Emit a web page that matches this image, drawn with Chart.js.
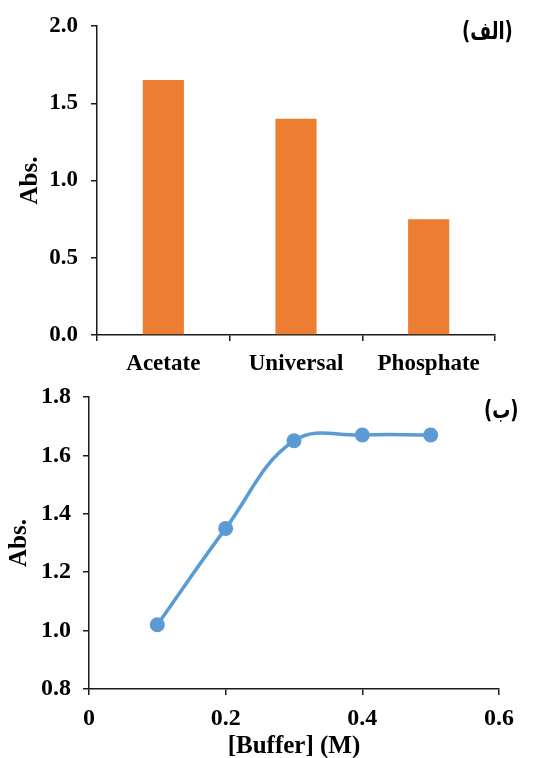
<!DOCTYPE html>
<html>
<head>
<meta charset="utf-8">
<script src="https://cdn.jsdelivr.net/npm/chart.js@4.4.1/dist/chart.umd.min.js"></script>
<style>
  html, body { margin: 0; padding: 0; background: #fff; }
  body { width: 541px; height: 758px; position: relative; overflow: hidden; }
  .box { position: absolute; left: 0; width: 541px; }
  #box-a { top: 0; height: 380px; }
  #box-b { top: 380px; height: 378px; }
  .tag {
    position: absolute; font-family: "DejaVu Sans"; font-weight: bold; font-size: 24px;
    color: #000; line-height: 1; white-space: nowrap;
    transform: scaleX(0.75); transform-origin: left top;
  }
</style>
</head>
<body>
<div class="box" id="box-a"><canvas id="grafico-a"></canvas></div>
<div class="box" id="box-b"><canvas id="grafico-b"></canvas></div>
<div class="tag" id="tag-a" dir="rtl" style="left:462px; top:19px;">(الف)</div>
<div class="tag" id="tag-b" dir="rtl" style="left:484px; top:398px;">(ب)</div>

<script>
// ===== DADOS =====
const tampoes = ["Acetate", "Universal", "Phosphate"];
const absTampao = [1.65, 1.40, 0.75];
const ticksA = [0.0, 0.5, 1.0, 1.5, 2.0];

const concentracao = [0.1, 0.2, 0.3, 0.4, 0.5];
const absConc = [1.02, 1.35, 1.65, 1.67, 1.67];
const ticksBx = [0, 0.2, 0.4, 0.6];
const ticksBxLabels = ["0", "0.2", "0.4", "0.6"];
const ticksBy = [0.8, 1.0, 1.2, 1.4, 1.6, 1.8];

const SERIF = "'Liberation Serif', 'Times New Roman', serif";
const EIXO = "#1a1a1a";

function fixarTicks(valores) {
  return scale => { scale.ticks = valores.map(v => ({ value: v })); };
}

// larguras fixas, sem padding extra das escalas
function larguraY(w) {
  return s => { s.width = w; s.paddingTop = 0; s.paddingBottom = 0; };
}
function alturaX(h) {
  return s => { s.height = h; s.paddingLeft = 0; s.paddingRight = 0; };
}

// ===== GRÁFICO (الف) =====
new Chart(document.getElementById("grafico-a"), {
  type: "bar",
  data: {
    labels: tampoes,
    datasets: [{
      data: absTampao,
      backgroundColor: "#ED7D31",
      borderWidth: 0,
      barPercentage: 0.31,
      categoryPercentage: 1,
    }]
  },
  options: {
    responsive: true,
    maintainAspectRatio: false,
    animation: false,
    layout: { padding: { left: 0, right: 46, top: 26, bottom: 0 } },
    plugins: { legend: { display: false }, tooltip: { enabled: false } },
    scales: {
      x: {
        afterFit: alturaX(45),
        grid: { offset: true, drawOnChartArea: false, drawTicks: true, tickLength: 6, color: EIXO, lineWidth: 1.5 },
        border: { color: EIXO, width: 1.5 },
        ticks: { color: "#000", padding: 9, font: { family: SERIF, size: 23, weight: "bold" } },
      },
      y: {
        min: 0,
        max: 2,
        afterBuildTicks: fixarTicks(ticksA),
        afterFit: larguraY(97),
        grid: { drawOnChartArea: false, drawTicks: true, tickLength: 6, color: EIXO, lineWidth: 1.5 },
        border: { color: EIXO, width: 1.5 },
        ticks: {
          color: "#000",
          padding: 13,
          font: { family: SERIF, size: 23, weight: "bold" },
          callback: v => v.toFixed(1),
        },
        title: {
          display: true,
          text: "Abs.",
          color: "#000",
          padding: { top: 16, bottom: 0 },
          font: { family: SERIF, size: 25, weight: "bold" },
        },
      },
    },
  },
});

// ===== GRÁFICO (ب) =====
new Chart(document.getElementById("grafico-b"), {
  type: "line",
  data: {
    datasets: [{
      data: concentracao.map((x, i) => ({ x, y: absConc[i] })),
      borderColor: "#5B9BD5",
      backgroundColor: "#5B9BD5",
      borderWidth: 3.5,
      pointRadius: 7.5,
      pointBorderWidth: 0,
      tension: 0.4,
    }]
  },
  options: {
    responsive: true,
    maintainAspectRatio: false,
    animation: false,
    layout: { padding: { left: 0, right: 42, top: 17, bottom: 0 } },
    plugins: { legend: { display: false }, tooltip: { enabled: false } },
    scales: {
      x: {
        type: "linear",
        min: 0,
        max: 0.6,
        afterBuildTicks: fixarTicks(ticksBx),
        afterFit: alturaX(69),
        grid: { drawOnChartArea: false, drawTicks: true, tickLength: 6, color: EIXO, lineWidth: 1.5 },
        border: { color: EIXO, width: 1.5 },
        ticks: {
          color: "#000",
          padding: 9,
          font: { family: SERIF, size: 24, weight: "bold" },
          callback: (v, i) => ticksBxLabels[i],
        },
        title: {
          display: true,
          text: "[Buffer] (M)",
          color: "#000",
          padding: { top: 0, bottom: -4 },
          font: { family: SERIF, size: 25, weight: "bold" },
        },
      },
      y: {
        min: 0.8,
        max: 1.8,
        afterBuildTicks: fixarTicks(ticksBy),
        afterFit: larguraY(89),
        grid: { drawOnChartArea: false, drawTicks: true, tickLength: 6, color: EIXO, lineWidth: 1.5 },
        border: { color: EIXO, width: 1.5 },
        ticks: {
          color: "#000",
          padding: 12,
          font: { family: SERIF, size: 24, weight: "bold" },
          callback: v => v.toFixed(1),
        },
        title: {
          display: true,
          text: "Abs.",
          color: "#000",
          padding: { top: 5, bottom: 0 },
          font: { family: SERIF, size: 25, weight: "bold" },
        },
      },
    },
  },
});
</script>
</body>
</html>
